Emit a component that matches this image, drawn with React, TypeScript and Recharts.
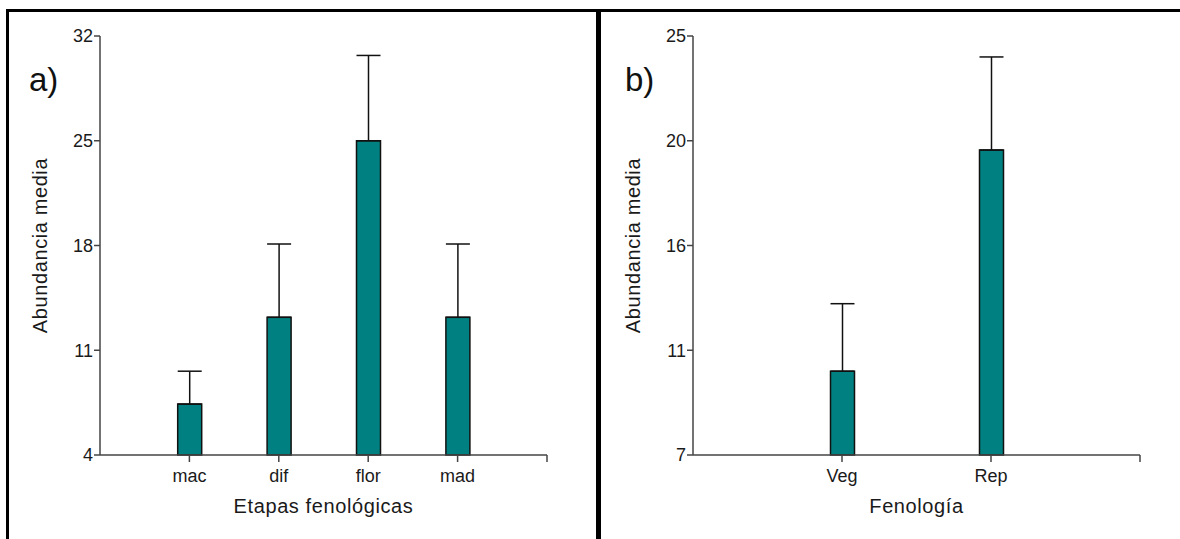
import React from "react";
import { BarChart, Bar, XAxis, YAxis, ErrorBar } from "recharts";

// a) etapas fenológicas
const stagesA = ["mac", "dif", "flor", "mad"];
const meansA = [7.4, 13.2, 25.0, 13.2];
const errorsA = [2.2, 4.9, 5.7, 4.9];
const yTicksA = [4, 11, 18, 25, 32];
const yLabelsA = ["4", "11", "18", "25", "32"];

// b) fenología
const stagesB = ["Veg", "Rep"];
const meansB = [10.6, 20.1];
const errorsB = [2.9, 4.0];
const yTicksB = [7, 11.5, 16, 20.5, 25];
const yLabelsB = ["7", "11", "16", "20", "25"];

const FONT = '"Liberation Sans", Arial, sans-serif';
const TEAL = "#008080";
const AXIS = "#444";

interface PanelProps {
  left: number;
  width: number;
  plotLeft: number;
  plotRight: number;
  cats: string[];
  means: number[];
  errs: number[];
  yTicks: number[];
  yLabels: string[];
  xTitle: string;
  yTitleX: number;
  tag: string;
  tagX: number;
}

function Panel(p: PanelProps) {
  const data = p.cats.map((c, i) => ({ pos: i + 1, name: c, mean: p.means[i], err: [0, p.errs[i]] }));
  const n = p.cats.length + 1;
  const xTicks = [...p.cats.map((_, i) => i + 1), n];

  return (
    <div style={{ position: "absolute", left: p.left, top: 0 }}>
      <BarChart
        width={p.width}
        height={539}
        data={data}
        margin={{ top: 36, right: p.width - p.plotRight, bottom: 24, left: 0 }}
      >
        <XAxis
          type="number"
          dataKey="pos"
          domain={[0, n]}
          ticks={xTicks}
          interval={0}
          tickFormatter={(v: number) => p.cats[v - 1] ?? ""}
          height={60}
          stroke={AXIS}
          strokeWidth={1.5}
          tickSize={7}
          tickMargin={7}
          tick={{ fill: "#1a1a1a", fontSize: 18, fontFamily: FONT }}
          label={{
            content: (props: any) => {
              const vb = props.viewBox;
              return (
                <text
                  x={vb.x + vb.width / 2}
                  y={513}
                  textAnchor="middle"
                  fill="#1a1a1a"
                  fontSize={20}
                  fontFamily={FONT}
                  style={{ letterSpacing: 0.6 }}
                >
                  {p.xTitle}
                </text>
              );
            },
          }}
        />
        <YAxis
          type="number"
          domain={[p.yTicks[0], p.yTicks[p.yTicks.length - 1]]}
          ticks={p.yTicks}
          interval={0}
          tickFormatter={(v: number, i: number) => p.yLabels[i]}
          width={p.plotLeft}
          stroke={AXIS}
          strokeWidth={1.5}
          tickSize={6}
          tickMargin={1}
          tick={{ fill: "#1a1a1a", fontSize: 18, fontFamily: FONT }}
          label={{
            content: (props: any) => {
              const vb = props.viewBox;
              const cy = vb.y + vb.height / 2;
              return (
                <text
                  x={p.yTitleX}
                  y={cy}
                  transform={`rotate(-90, ${p.yTitleX}, ${cy})`}
                  textAnchor="middle"
                  fill="#1a1a1a"
                  fontSize={20}
                  fontFamily={FONT}
                  style={{ letterSpacing: 0.6 }}
                >
                  Abundancia media
                </text>
              );
            },
          }}
        />
        <Bar dataKey="mean" fill={TEAL} stroke="#111" strokeWidth={1.5} barSize={24} isAnimationActive={false}>
          <ErrorBar dataKey="err" direction="y" width={12} stroke="#111" strokeWidth={1.5} isAnimationActive={false} />
        </Bar>
      </BarChart>
      <div
        style={{
          position: "absolute",
          left: p.tagX,
          top: 63,
          fontSize: 33,
          lineHeight: "33px",
          fontFamily: FONT,
          color: "#111",
        }}
      >
        {p.tag}
      </div>
    </div>
  );
}

export default function App() {
  return (
    <div
      style={{
        position: "absolute",
        left: 0,
        top: 0,
        width: 1180,
        height: 539,
        background: "#fff",
        overflow: "hidden",
      }}
    >
      <div
        style={{
          position: "absolute",
          left: 6,
          top: 9,
          width: 1200,
          height: 600,
          borderTop: "3px solid #000",
          borderLeft: "3px solid #000",
        }}
      />
      <div style={{ position: "absolute", left: 596, top: 9, width: 5, height: 540, background: "#000" }} />
      <Panel
        left={0}
        width={596}
        plotLeft={100}
        plotRight={547}
        cats={stagesA}
        means={meansA}
        errs={errorsA}
        yTicks={yTicksA}
        yLabels={yLabelsA}
        xTitle="Etapas fenológicas"
        yTitleX={47}
        tag="a)"
        tagX={29}
      />
      <Panel
        left={600}
        width={580}
        plotLeft={93}
        plotRight={540}
        cats={stagesB}
        means={meansB}
        errs={errorsB}
        yTicks={yTicksB}
        yLabels={yLabelsB}
        xTitle="Fenología"
        yTitleX={40}
        tag="b)"
        tagX={25}
      />
    </div>
  );
}
